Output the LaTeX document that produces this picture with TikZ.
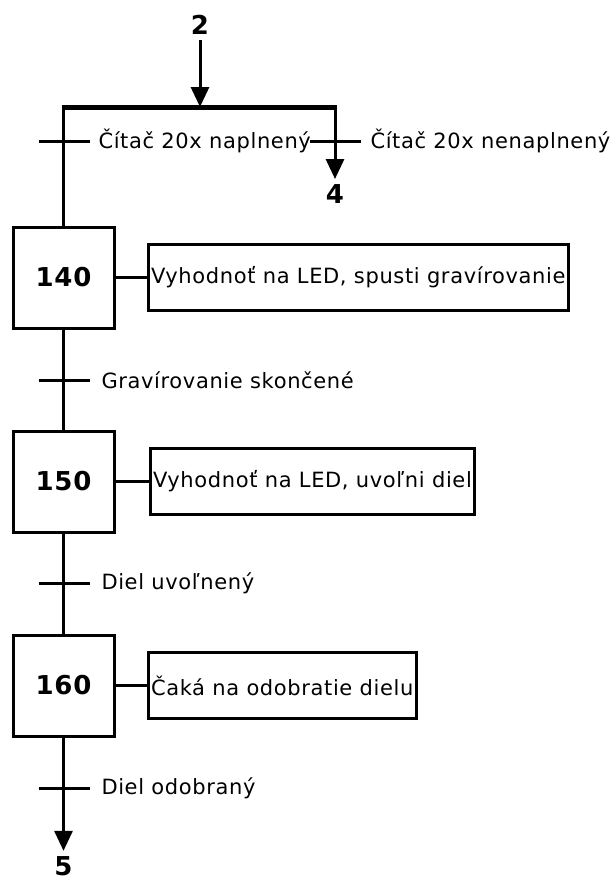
\documentclass[tikz,border=0pt]{standalone}
\usepackage{fontspec}
\setmainfont{DejaVu Sans}[LetterSpace=3]
\usetikzlibrary{arrows.meta,positioning,calc}

\begin{document}
\begin{tikzpicture}[x=1pt, y=-1pt, >={Triangle[width=18pt,length=20pt]}, line width=3pt, font=\fontsize{21}{25}\selectfont]
	\tikzset{stepbox/.style={draw, minimum size=101pt, inner sep=0pt, font=\fontsize{26}{30}\selectfont\bfseries},
		actbox/.style={draw, minimum height=66pt, inner xsep=3pt, inner ysep=0pt},
		tick/.style={line width=3pt},
		cond/.style={anchor=west, inner sep=0pt},
		goto/.style={inner sep=4pt, font=\fontsize{26}{30}\selectfont\bfseries}}
	\useasboundingbox (0,0) rectangle (613,883);
	% entry from 2, selection of two branches
	\node[goto] (from2) at (200,25) {2};
	\coordinate (bl) at (63.5,107);
	\coordinate (bm) at (200,107);
	\coordinate (br) at (335,107);
	\draw[->] (from2) -- (bm);
	\draw[line width=5pt] ($(bl)+(-1.5,0)$) -- ($(br)+(1.5,0)$);
	\node[goto] (to4) at (335,194) {4};
	\draw[->] (br) -- (to4);
	\coordinate (t0l) at (63.5,141);
	\coordinate (t0r) at (335,141);
	\draw[tick] ($(t0l)+(-25,0)$) -- ($(t0l)+(26,0)$);
	\draw[tick] ($(t0r)+(-25,0)$) -- ($(t0r)+(26,0)$);
	\node[cond] (c0l) at (97,141) {Čítač 20x naplnený};
	\node[cond] (c0r) at (369,141) {Čítač 20x nenaplnený};
	% steps and actions
	\node[stepbox] (s140) at (63.5,277.5) {140};
	\node[stepbox] (s150) at (63.5,481.5) {150};
	\node[stepbox] (s160) at (63.5,685.5) {160};
	\node[actbox, right=31pt of s140] (a140) {Vyhodnoť na LED, spusti gravírovanie};
	\node[actbox, right=33pt of s150] (a150) {Vyhodnoť na LED, uvoľni diel};
	\node[actbox, right=31pt of s160] (a160) {Čaká na odobratie dielu};
	\draw (s140) -- (a140);
	\draw (s150) -- (a150);
	\draw (s160) -- (a160);
	\draw (bl) -- (s140);
	\draw (s140) -- (s150);
	\draw (s150) -- (s160);
	% transitions
	\coordinate (t1) at (63.5,380);
	\coordinate (t2) at (63.5,583);
	\coordinate (t3) at (63.5,788);
	\foreach \t in {t1,t2,t3}
		\draw[tick] ($(\t)+(-25,0)$) -- ($(\t)+(26,0)$);
	\node[cond] (c1) at (100,380) {Gravírovanie skončené};
	\node[cond] (c2) at (100,583) {Diel uvoľnený};
	\node[cond] (c3) at (100,788) {Diel odobraný};
	% exit to 5
	\node[goto] (to5) at (63.5,866) {5};
	\draw[->] (s160) -- (to5);
\end{tikzpicture}
\end{document}
